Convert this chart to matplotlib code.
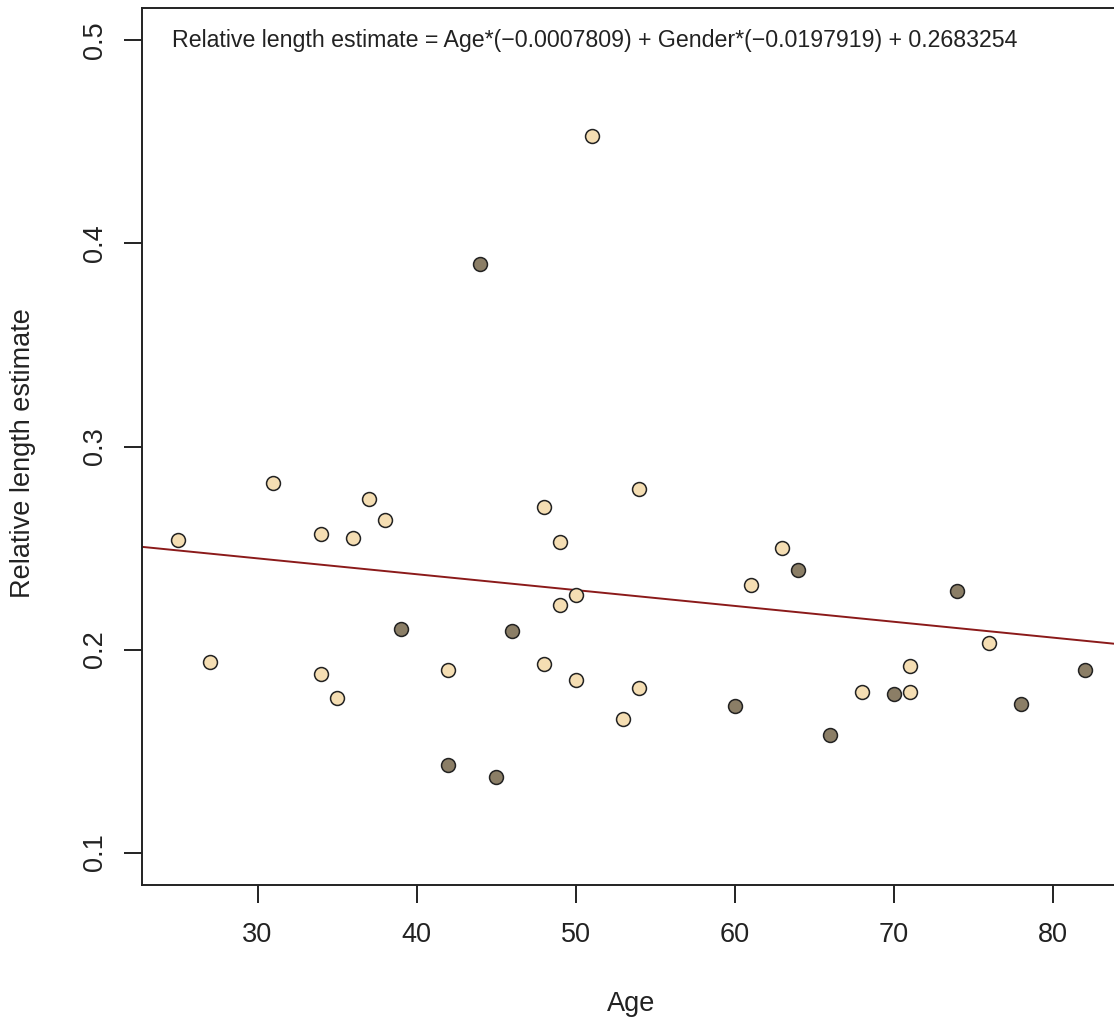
import numpy as np
import matplotlib
matplotlib.use("Agg")
import matplotlib.pyplot as plt

plt.rcParams["font.family"] = ["Liberation Sans", "DejaVu Sans"]

# =============================================================================
# DADOS
# =============================================================================

# gender 0 = claro (wheat), 1 = escuro (wheat4)
age = [25, 27, 31, 34, 34, 35, 36, 37, 38, 42, 48, 48, 49, 49, 50, 50,
       51, 53, 54, 54, 61, 63, 68, 71, 71, 76,
       39, 42, 44, 45, 46, 60, 64, 66, 70, 74, 78, 82]
estimate = [0.254, 0.194, 0.282, 0.257, 0.188, 0.176, 0.255, 0.274, 0.264,
            0.190, 0.270, 0.193, 0.253, 0.222, 0.227, 0.185, 0.453, 0.166,
            0.279, 0.181, 0.232, 0.250, 0.179, 0.192, 0.179, 0.203,
            0.210, 0.143, 0.390, 0.137, 0.209, 0.172, 0.239, 0.158, 0.178,
            0.229, 0.173, 0.190]
gender = [0] * 26 + [1] * 12

coef_age    = -0.0007809
coef_gender = -0.0197919
intercept   = 0.2683254

x_ticks = [30, 40, 50, 60, 70, 80]
y_ticks = [0.1, 0.2, 0.3, 0.4, 0.5]

COLORS  = {0: "#F5DEB3", 1: "#8B7E66"}
FG      = "#222222"
FS      = 19.5
W, H    = 1114, 1023

# =============================================================================

fig = plt.figure(figsize=(W / 100, H / 100), dpi=100)
ax = fig.add_axes([141.7 / W, (H - 885) / H, (1121 - 141.7) / W, (885 - 8) / H])

age = np.array(age)
estimate = np.array(estimate)
gender = np.array(gender)

for g, col in COLORS.items():
    m = gender == g
    ax.scatter(age[m], estimate[m], s=100, c=col, edgecolors=FG,
               linewidths=1.1, zorder=3)

xs = np.array([20, 90])
ax.plot(xs, intercept + coef_age * xs, color="#8B1A1A", lw=1.4, zorder=2)

ax.set_xlim(22.72, 84.28)
ax.set_ylim(0.084, 0.516)
ax.set_xticks(x_ticks)
ax.set_yticks(y_ticks)
ax.set_xticklabels([str(t) for t in x_ticks])
ax.set_yticklabels([f"{t:.1f}" for t in y_ticks], rotation=90, va="center")

for sp in ax.spines.values():
    sp.set_color(FG)
    sp.set_linewidth(1.4)
ax.tick_params(direction="out", length=13.3, width=1.4, color=FG,
               labelsize=FS, labelcolor=FG)
ax.tick_params(axis="x", pad=13)
ax.tick_params(axis="y", pad=11)

ax.text(24.63, 0.5,
        "Relative length estimate = Age*(\u22120.0007809) + Gender*(\u22120.0197919) + 0.2683254",
        ha="left", va="center", fontsize=16.65, color=FG)

fig.text(631 / W, 1 - 1004 / H, "Age", ha="center", va="center",
         fontsize=FS, color=FG)
fig.text(23 / W, 1 - 453 / H, "Relative length estimate", ha="center",
         va="center", rotation=90, fontsize=FS, color=FG)

fig.savefig("out.png", dpi=100)
